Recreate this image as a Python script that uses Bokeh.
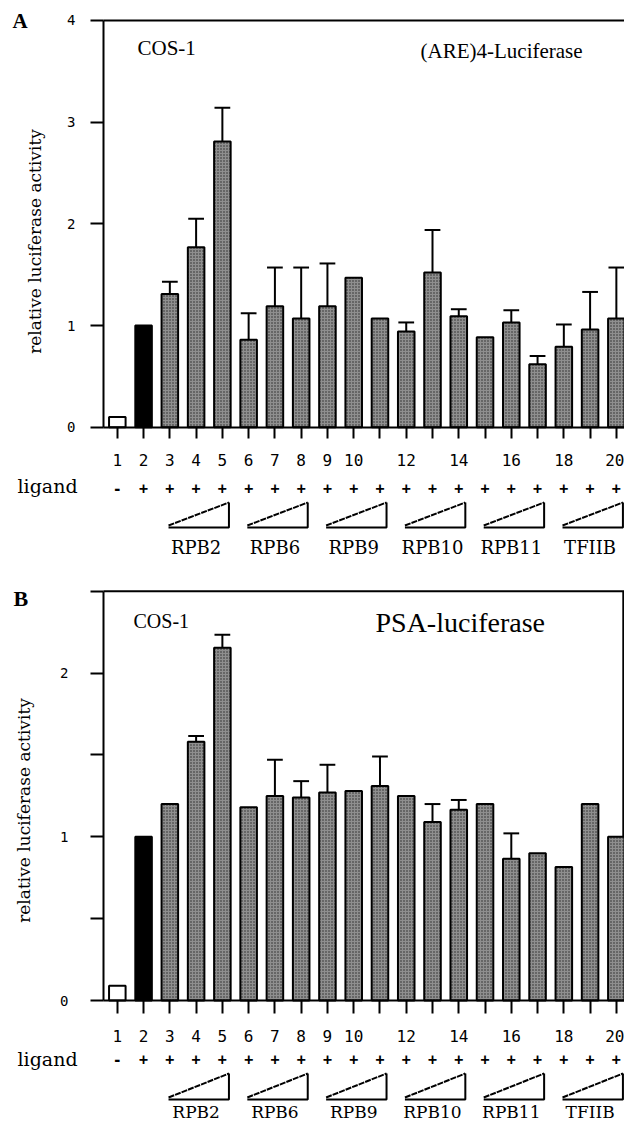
import math
from bokeh.plotting import figure
from bokeh.layouts import column
from bokeh.models import Range1d, FixedTicker, Label, LinearAxis, ColumnDataSource
from bokeh.embed import file_html
from bokeh.resources import INLINE
from bokeh.core.properties import value

# ---------------- data ----------------
lanes = list(range(1, 21))
lane_tick_labels = ["1", "2", "3", "4", "5", "6", "7", "8", "9", "10",
                    "", "12", "", "14", "", "16", "", "18", "", "20"]
ligand_signs = ["-"] + ["+"] * 19
group_names = ["RPB2", "RPB6", "RPB9", "RPB10", "RPB11", "TFIIB"]
group_first = [3, 6, 9, 12, 15, 18]
group_last = [5, 8, 11, 14, 17, 20]

# Panel A: (ARE)4-Luciferase
a_values = [0.10, 1.00, 1.31, 1.77, 2.81, 0.86, 1.19, 1.07, 1.19, 1.47,
            1.07, 0.94, 1.52, 1.09, 0.885, 1.03, 0.62, 0.79, 0.96, 1.07]
a_errors = [0.0, 0.0, 0.12, 0.28, 0.33, 0.26, 0.38, 0.50, 0.42, 0.0,
            0.0, 0.09, 0.42, 0.07, 0.0, 0.12, 0.08, 0.22, 0.37, 0.50]
a_yticks = [0, 1, 2, 3, 4]
a_ytick_labels = ["0", "1", "2", "3", "4"]

# Panel B: PSA-luciferase
b_values = [0.09, 1.00, 1.20, 1.58, 2.155, 1.18, 1.25, 1.24, 1.27, 1.28,
            1.31, 1.25, 1.09, 1.165, 1.20, 0.866, 0.90, 0.815, 1.20, 1.00]
b_errors = [0.0, 0.0, 0.0, 0.035, 0.08, 0.0, 0.22, 0.10, 0.17, 0.0,
            0.18, 0.0, 0.11, 0.06, 0.0, 0.155, 0.0, 0.0, 0.0, 0.0]
b_yticks = [0, 0.5, 1, 1.5, 2, 2.5]
b_ytick_labels = ["0", "", "1", "", "2", ""]

# ---------------- layout constants ----------------
W = 624
X0, X1 = 0.474, 20.31            # lane coordinate at px 103 and at px 624
PXU = (W - 103) / (X1 - X0)      # px per lane
XL = X0 - 103 / PXU              # lane coordinate at px 0
SERIF = "Liberation Serif"
WSERIF = "DejaVu Serif"
MONO = "DejaVu Sans Mono"
BAR_W = 0.63
CAP = 0.30


def xd(px):
    return XL + px / PXU


def make_panel(values, errors, yticks, ylabels, top_value, height, zero_px,
               px_per_unit, ystand, xtick_out, right_border):
    def yd(px):
        return (zero_px - px) / px_per_unit

    p = figure(width=W, height=height, x_range=Range1d(XL, X1),
               y_range=Range1d(yd(height), yd(0)), output_backend="svg",
               toolbar_location=None, x_axis_location=None,
               y_axis_location=None, min_border=0)
    p.outline_line_color = None
    p.grid.visible = False
    p.background_fill_color = "white"
    p.border_fill_color = "white"

    ya = LinearAxis(fixed_location=X0, bounds=(0, top_value),
                    ticker=FixedTicker(ticks=yticks),
                    major_label_overrides={t: l for t, l in zip(yticks, ylabels)})
    ya.axis_line_width = 2
    ya.axis_line_color = "black"
    ya.major_tick_line_width = 2
    ya.major_tick_in = 0
    ya.major_tick_out = 13
    ya.minor_tick_line_color = None
    ya.major_label_standoff = ystand
    ya.major_label_text_font = MONO
    ya.major_label_text_font_size = "14px"
    ya.major_label_text_color = "black"
    p.add_layout(ya, "left")

    xa = LinearAxis(fixed_location=0, bounds=(X0, X1),
                    ticker=FixedTicker(ticks=lanes),
                    major_label_overrides={l: t for l, t in zip(lanes, lane_tick_labels)})
    xa.axis_line_width = 2
    xa.axis_line_color = "black"
    xa.major_tick_line_width = 2
    xa.major_tick_in = 0
    xa.major_tick_out = xtick_out
    xa.minor_tick_line_color = None
    xa.major_label_standoff = 16
    xa.major_label_text_font = MONO
    xa.major_label_text_font_size = "16px"
    xa.major_label_text_color = "black"
    p.add_layout(xa, "below")

    # frame lines
    p.segment(x0=[X0], y0=[top_value], x1=[X1], y1=[top_value],
              line_color="black", line_width=2)
    if right_border:
        xr = X1 - 1.2 / PXU
        p.segment(x0=[xr], y0=[0], x1=[xr], y1=[top_value],
                  line_color="black", line_width=2)

    # bars
    plain = ColumnDataSource(dict(x=lanes[:2], top=values[:2],
                                  color=["white", "black"]))
    p.vbar(x="x", top="top", width=BAR_W, source=plain, fill_color="color",
           line_color="black", line_width=2)
    shaded = ColumnDataSource(dict(x=lanes[2:], top=values[2:]))
    p.vbar(x="x", top="top", width=BAR_W, source=shaded,
           fill_color="#8f8f8f", hatch_pattern="dot", hatch_color="#262626",
           hatch_scale=3, hatch_weight=1,
           line_color="black", line_width=2)

    # error bars (upper only)
    ex = [x for x, e in zip(lanes, errors) if e > 0]
    ev = [v for v, e in zip(values, errors) if e > 0]
    et = [v + e for v, e in zip(values, errors) if e > 0]
    p.segment(x0=ex, y0=ev, x1=ex, y1=et, line_color="black", line_width=2)
    p.segment(x0=[x - CAP for x in ex], y0=et, x1=[x + CAP for x in ex],
              y1=et, line_color="black", line_width=2)
    return p, yd


def add_rows(p, yd, y_lig, y_sign, tri_top, tri_bot, y_names, name_size):
    p.text(x=[xd(17)], y=[yd(y_lig)], text=["ligand"],
           text_font=value(WSERIF), text_font_size="19px", text_align="left",
           text_baseline="middle", text_color="black")
    p.text(x=lanes, y=[yd(y_sign)] * len(lanes), text=ligand_signs,
           text_font=value(MONO), text_font_size="15px",
           text_font_style="bold", text_align="center",
           text_baseline="middle", text_color="black")
    xl = [s - 0.05 for s in group_first]
    xr = [e + 0.25 for e in group_last]
    p.multi_line(xs=[[a, b, b] for a, b in zip(xl, xr)],
                 ys=[[yd(tri_bot), yd(tri_bot), yd(tri_top)] for _ in xl],
                 line_color="black", line_width=2)
    p.segment(x0=xl, y0=[yd(tri_bot - 2)] * len(xl), x1=xr,
              y1=[yd(tri_top)] * len(xl),
              line_color="black", line_width=2, line_dash="6 1")
    p.text(x=[(s + e) / 2 for s, e in zip(group_first, group_last)],
           y=[yd(y_names)] * len(group_names), text=group_names,
           text_font=value(WSERIF), text_font_size=name_size,
           text_align="center", text_baseline="middle", text_color="black")


def label(p, x, y, text, font, size, bold=False, angle=0.0, align="left"):
    p.add_layout(Label(x=x, y=y, text=text, text_font=font,
                       text_font_size=size,
                       text_font_style="bold" if bold else "normal",
                       angle=angle, text_align=align, text_baseline="middle",
                       text_color="black"))


# ---------------- Panel A (page px 0..560) ----------------
pa, ay = make_panel(a_values, a_errors, a_yticks, a_ytick_labels, 4, 560,
                    426.7, 101.7, ystand=15, xtick_out=11, right_border=False)
add_rows(pa, ay, y_lig=485, y_sign=487, tri_top=502, tri_bot=527, y_names=547,
         name_size="18px")
label(pa, xd(12), ay(20), "A", SERIF, "21px", bold=True)
label(pa, xd(34), ay(241), "relative luciferase activity", WSERIF, "17px",
      angle=math.pi / 2, align="center")
label(pa, xd(137), ay(47), "COS-1", SERIF, "21px")
label(pa, xd(420), ay(50), "(ARE)4-Luciferase", SERIF, "21px")

# ---------------- Panel B (page px 560..1123) ----------------
pb, by_ = make_panel(b_values, b_errors, b_yticks, b_ytick_labels, 2.5, 563,
                     440, 163.7, ystand=22, xtick_out=13, right_border=True)
add_rows(pb, by_, y_lig=1058 - 560, y_sign=1058 - 560, tri_top=1073 - 560,
         tri_bot=1099 - 560, y_names=1111 - 560, name_size="17px")
label(pb, xd(13), by_(598 - 560), "B", SERIF, "22px", bold=True)
label(pb, xd(23), by_(810 - 560), "relative luciferase activity", WSERIF,
      "17px", angle=math.pi / 2, align="center")
label(pb, xd(133), by_(620 - 560), "COS-1", SERIF, "20px")
label(pb, xd(375), by_(622 - 560), "PSA-luciferase", SERIF, "28px")

layout = column(pa, pb, spacing=0)
open("out.html", "w").write(file_html(layout, INLINE))
